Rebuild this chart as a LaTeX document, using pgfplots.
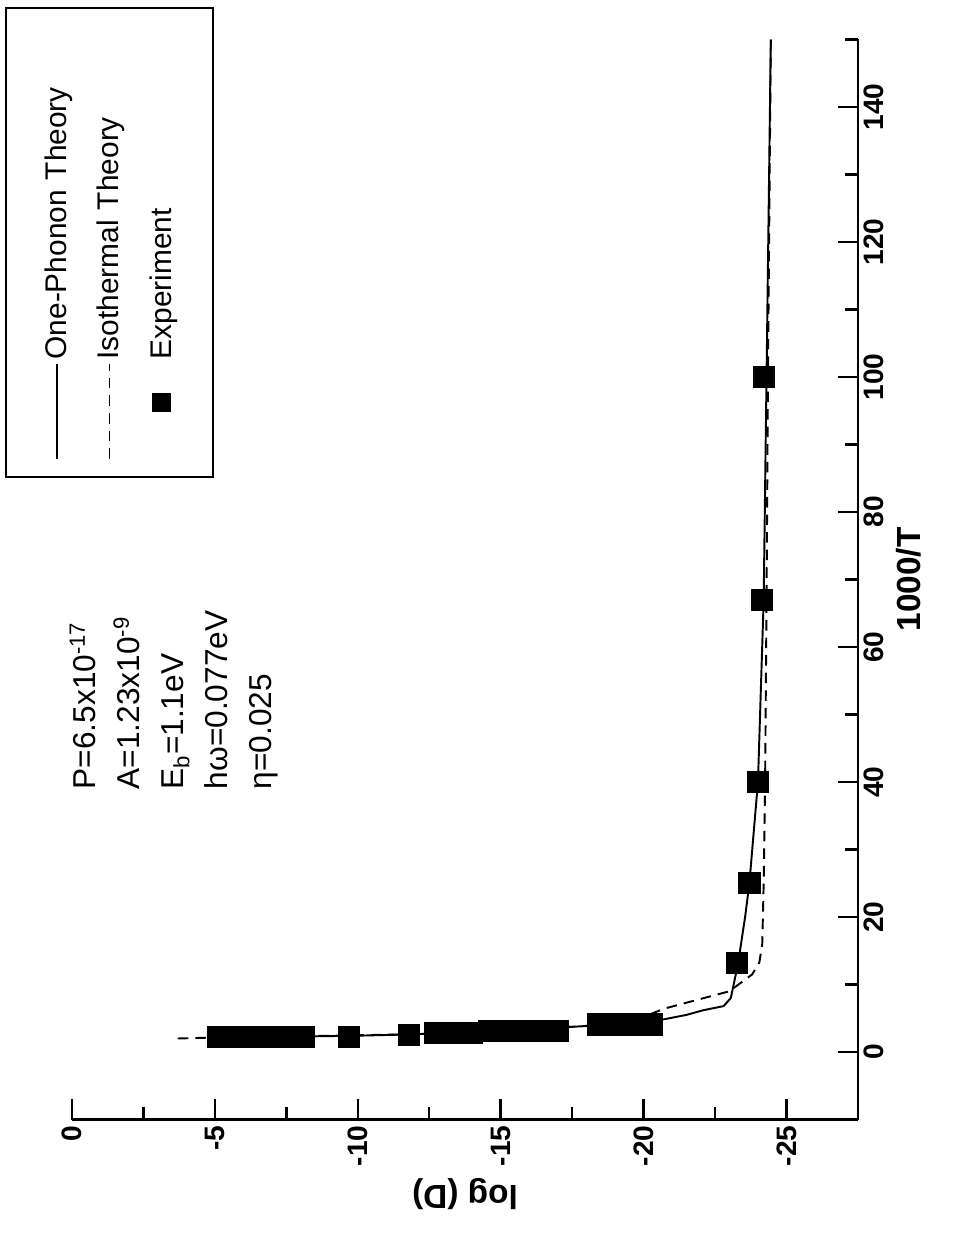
\documentclass[border=0pt]{standalone}
\usepackage{pgfplots}
\pgfplotsset{compat=1.18}
\usepackage{fontspec}
\setmainfont{Liberation Sans}
\begin{document}
\rotatebox{90}{%
\begin{tikzpicture}
\useasboundingbox (-2.63cm,-2.14cm) rectangle (22.39cm,17.16cm);
\begin{axis}[
  scale only axis, width=21.6cm, height=15.72cm,
  anchor=south west, at={(0,0)},
  xmin=-10, xmax=150, ymin=-27.5, ymax=0,
  axis x line=bottom, axis y line=left,
  axis line style={-, line width=1.6pt},
  xtick={0,20,...,140}, ytick={0,-5,...,-25},
  minor xtick={10,30,...,150}, minor ytick={-2.5,-7.5,...,-27.5},
  tick align=inside, major tick length=0.4cm, minor tick length=0.25cm,
  every tick/.style={line width=1.4pt, black},
  tick label style={font=\fontsize{16}{19}\selectfont\bfseries},
  /pgf/number format/assume math mode=true,
  xlabel={1000/T}, ylabel={log (D)},
  label style={font=\fontsize{19}{22}\selectfont\bfseries},
  clip=false,
  legend style={at={(0.594,1.085)}, anchor=north west, draw=black, line width=1.2pt,
    font=\fontsize{17}{20}\selectfont, row sep=12pt, inner xsep=10pt, inner ysep=20pt,
    text width=6.6cm},
  legend cell align=left,
  legend image code/.code={\draw[#1, line width=0.8pt] (0cm,0cm) -- (1.9cm,0cm);},
]
\addplot[black, line width=1.1pt] coordinates {
(2.2,-5.0)(2.3,-8.0)(2.4,-9.8)(2.6,-11.8)(2.9,-13.5)(3.3,-15.5)(3.8,-17.8)(4.5,-20.3)(5.5,-21.5)(6.2,-22.1)(6.8,-22.8)(8,-23.05)(10,-23.15)(13,-23.3)(20,-23.55)(25,-23.7)(40,-24.0)(67,-24.2)(100,-24.3)(150,-24.45)};
\addlegendentry{One-Phonon Theory}
\addplot[black, line width=1.1pt, dash pattern=on 6pt off 4pt] coordinates {
(2.0,-3.7)(2.2,-5.5)(2.4,-9.0)(2.6,-11.5)(2.9,-13.5)(3.3,-15.6)(3.8,-17.8)(4.5,-19.6)(6.4,-20.7)(9,-23.0)(11.5,-23.8)(13.3,-24.05)(16,-24.15)(25,-24.2)(40,-24.25)(67,-24.3)(100,-24.35)(150,-24.45)};
\addlegendentry{Isothermal Theory}
\addplot[only marks, mark=square*, mark size=6pt, black,
  legend image code/.code={\fill[black] (0.95cm,-0.17cm) rectangle ++(0.34cm,0.34cm);}] coordinates {
(2.2,-5.1)(2.2,-5.7)(2.2,-6.3)(2.2,-6.9)(2.2,-7.5)(2.2,-8.1)(2.3,-9.7)(2.5,-11.8)
(2.9,-12.7)(2.9,-13.3)(2.9,-14.0)(3.2,-14.6)(3.2,-15.2)(3.2,-15.8)(3.2,-16.4)(3.2,-17.0)
(4.1,-18.4)(4.1,-19.0)(4.1,-19.6)(4.1,-20.3)
(13.2,-23.25)(25,-23.7)(40,-24.0)(67,-24.15)(100,-24.2)};
\addlegendentry{Experiment}
\node[anchor=north west, align=left, font=\fontsize{18}{25}\selectfont] at (axis cs:38,0.3)
 {P=6.5x10\textsuperscript{-17}\\A=1.23x10\textsuperscript{-9}\\E\textsubscript{b}=1.1eV\\hω=0.077eV\\η=0.025};
\end{axis}
\end{tikzpicture}}
\end{document}
